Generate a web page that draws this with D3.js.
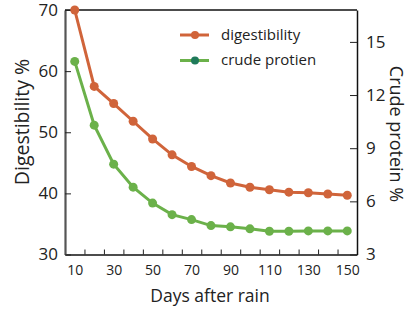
<!DOCTYPE html>
<html>
<head>
<meta charset="utf-8">
<script src="https://cdn.jsdelivr.net/npm/d3@7"></script>
<style>
  body { margin: 0; background: #fff; }
  text { font-family: "Open Sans", sans-serif; fill: #222; }
</style>
</head>
<body>
<div id="chart-area"></div>
<script>
// data
const days = [10, 20, 30, 40, 50, 60, 70, 80, 90, 100, 110, 120, 130, 140, 150]
const digestibility = [70, 57.5, 54.7, 51.8, 48.9, 46.3, 44.4, 42.9, 41.7, 41.0, 40.6, 40.2, 40.1, 39.9, 39.7]
const crudeProtein = [13.9, 10.3, 8.1, 6.8, 5.9, 5.25, 4.97, 4.63, 4.56, 4.45, 4.31, 4.31, 4.33, 4.33, 4.33]
const xLabels = [10, 30, 50, 70, 90, 110, 130, 150]
const xMinorTicks = [15, 25, 35, 45, 55, 65, 75, 85, 95, 105, 115, 125, 135, 145]
const leftTicks = [30, 40, 50, 60, 70]
const rightTicks = [3, 6, 9, 12, 15]
const seriesNames = ["digestibility", "crude protien"]

const MARGIN = { LEFT: 65, RIGHT: 53, TOP: 10, BOTTOM: 54.5 }
const W = 410, H = 309
const WIDTH = W - MARGIN.LEFT - MARGIN.RIGHT
const HEIGHT = H - MARGIN.TOP - MARGIN.BOTTOM

const ORANGE = "#d0643a"
const GREEN = "#6bb14a"

const svg = d3.select("#chart-area").append("svg")
  .attr("width", W)
  .attr("height", H)

const g = svg.append("g")
  .attr("transform", `translate(${MARGIN.LEFT}, ${MARGIN.TOP})`)

// scales
const x = d3.scaleLinear().domain([5, 155]).range([0, WIDTH])
const yL = d3.scaleLinear().domain([30, 70]).range([HEIGHT, 0])
const yR = d3.scaleLinear().domain([3, 16.8]).range([HEIGHT, 0])

// top border
g.append("line")
  .attr("x1", 0).attr("x2", WIDTH)
  .attr("y1", 0).attr("y2", 0)
  .attr("stroke", "#111").attr("stroke-width", 1.5)

// bottom axis: small ticks between labels
const xTickAxis = g.append("g")
  .attr("transform", `translate(0, ${HEIGHT})`)
  .call(d3.axisBottom(x).tickValues(xMinorTicks).tickFormat("").tickSize(-5).tickSizeOuter(0))
xTickAxis.select(".domain").attr("stroke", "#111").attr("stroke-width", 1.5)
xTickAxis.selectAll(".tick line").attr("stroke", "#222")

// bottom axis labels
const xLabelAxis = g.append("g")
  .attr("transform", `translate(0, ${HEIGHT})`)
  .call(d3.axisBottom(x).tickValues(xLabels).tickSize(0).tickPadding(11))
xLabelAxis.select(".domain").remove()
xLabelAxis.selectAll("text").style("font-size", "14px").attr("fill", "#222")

// left axis
const yLAxis = g.append("g")
  .call(d3.axisLeft(yL).tickValues(leftTicks).tickSize(-6).tickSizeOuter(0).tickPadding(7))
yLAxis.select(".domain").attr("stroke", "#555").attr("stroke-width", 2.2)
yLAxis.selectAll(".tick line").attr("stroke", "#222")
yLAxis.selectAll("text").style("font-size", "17px").attr("fill", "#222")

// right axis
const yRAxis = g.append("g")
  .attr("transform", `translate(${WIDTH}, 0)`)
  .call(d3.axisRight(yR).tickValues(rightTicks).tickSize(-7).tickSizeOuter(0).tickPadding(9))
yRAxis.select(".domain").attr("stroke", "#111").attr("stroke-width", 1.5)
yRAxis.selectAll(".tick line").attr("stroke", "#222")
yRAxis.selectAll("text").style("font-size", "17px").attr("fill", "#222")

// axis titles
g.append("text")
  .attr("transform", `translate(-36, 112) rotate(-90)`)
  .attr("text-anchor", "middle")
  .style("font-size", "19.5px")
  .text("Digestibility %")

g.append("text")
  .attr("transform", `translate(${WIDTH + 33}, 124) rotate(90)`)
  .attr("text-anchor", "middle")
  .style("font-size", "18px")
  .text("Crude protein %")

g.append("text")
  .attr("x", WIDTH / 2 - 1)
  .attr("y", HEIGHT + 47.5)
  .attr("text-anchor", "middle")
  .style("font-size", "17.5px")
  .text("Days after rain")

// lines
const lineL = d3.line().x((d, i) => x(days[i])).y(d => yL(d))
const lineR = d3.line().x((d, i) => x(days[i])).y(d => yR(d))

g.append("path")
  .attr("d", lineL(digestibility))
  .attr("fill", "none").attr("stroke", ORANGE).attr("stroke-width", 3)
g.selectAll(".dot-dig").data(digestibility).enter().append("circle")
  .attr("class", "dot-dig")
  .attr("cx", (d, i) => x(days[i]))
  .attr("cy", d => yL(d))
  .attr("r", 4.5)
  .attr("fill", ORANGE)

g.append("path")
  .attr("d", lineR(crudeProtein))
  .attr("fill", "none").attr("stroke", GREEN).attr("stroke-width", 3)
g.selectAll(".dot-cp").data(crudeProtein).enter().append("circle")
  .attr("class", "dot-cp")
  .attr("cx", (d, i) => x(days[i]))
  .attr("cy", d => yR(d))
  .attr("r", 4.5)
  .attr("fill", GREEN)

// legend
const legend = g.append("g").attr("transform", "translate(115, 25)")
const legendColors = [ORANGE, GREEN]
const markerColors = [ORANGE, "#1f7a5a"]
seriesNames.forEach((name, i) => {
  const row = legend.append("g").attr("transform", `translate(0, ${i * 25.5})`)
  row.append("line")
    .attr("x1", 0).attr("x2", 29)
    .attr("stroke", legendColors[i]).attr("stroke-width", 3)
  row.append("circle")
    .attr("cx", 15).attr("r", 4)
    .attr("fill", markerColors[i])
  row.append("text")
    .attr("x", 41).attr("dy", "0.32em")
    .style("font-size", "15px")
    .text(name)
})
</script>
</body>
</html>
